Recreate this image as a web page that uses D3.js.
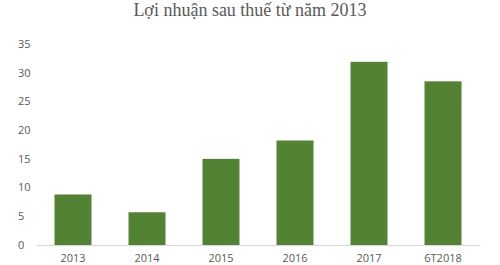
<!DOCTYPE html>
<html>
<head>
<meta charset="utf-8">
<script src="https://cdn.jsdelivr.net/npm/d3@7"></script>
<style>
  body { margin: 0; background: #fff; }
</style>
</head>
<body>
<script>
// DATA
const categories = ['2013', '2014', '2015', '2016', '2017', '6T2018'];
const profits = [8.8, 5.7, 15.0, 18.2, 31.9, 28.5];
const yTicks = [0, 5, 10, 15, 20, 25, 30, 35];
const chartTitle = 'Lợi nhuận sau thuế từ năm 2013';

// DEFS
const width = 500;
const height = 265;
const margin = {top: 44, right: 20, bottom: 20, left: 36};
const barColor = '#548235';
const labelColor = '#595959';
const labelFont = '11px "Open Sans", "Liberation Sans", sans-serif';

const svg = d3.select('body').append('svg')
    .attr('width', width)
    .attr('height', height);

// SCALES
const x = d3.scaleBand()
    .domain(categories)
    .range([margin.left, width - margin.right])
    .paddingInner(0.5)
    .paddingOuter(0.25);

const y = d3.scaleLinear()
    .domain([0, 35])
    .range([height - margin.bottom, margin.top]);

// TITLE
svg.append('text')
    .attr('x', 250)
    .attr('y', 16)
    .attr('text-anchor', 'middle')
    .style('font', '18px "Liberation Serif", "Times New Roman", serif')
    .attr('fill', '#595959')
    .text(chartTitle);

// Y LABELS
svg.append('g')
  .selectAll('text')
  .data(yTicks)
  .enter().append('text')
    .attr('x', 18)
    .attr('y', d => y(d))
    .attr('dy', '0.35em')
    .style('font', labelFont)
    .attr('fill', labelColor)
    .text(d => d);

// BARS
svg.append('g')
  .selectAll('rect')
  .data(profits)
  .enter().append('rect')
    .attr('x', (d, i) => x(categories[i]))
    .attr('y', d => y(d))
    .attr('width', x.bandwidth())
    .attr('height', d => y(0) - y(d))
    .attr('fill', barColor);

// X AXIS
const xAxis = svg.append('g')
    .attr('transform', `translate(0, ${y(0)})`)
    .call(d3.axisBottom(x).tickSize(0).tickPadding(9));

xAxis.select('.domain').attr('stroke', '#d9d9d9');
xAxis.selectAll('text')
    .style('font', labelFont)
    .attr('fill', labelColor);
</script>
</body>
</html>
